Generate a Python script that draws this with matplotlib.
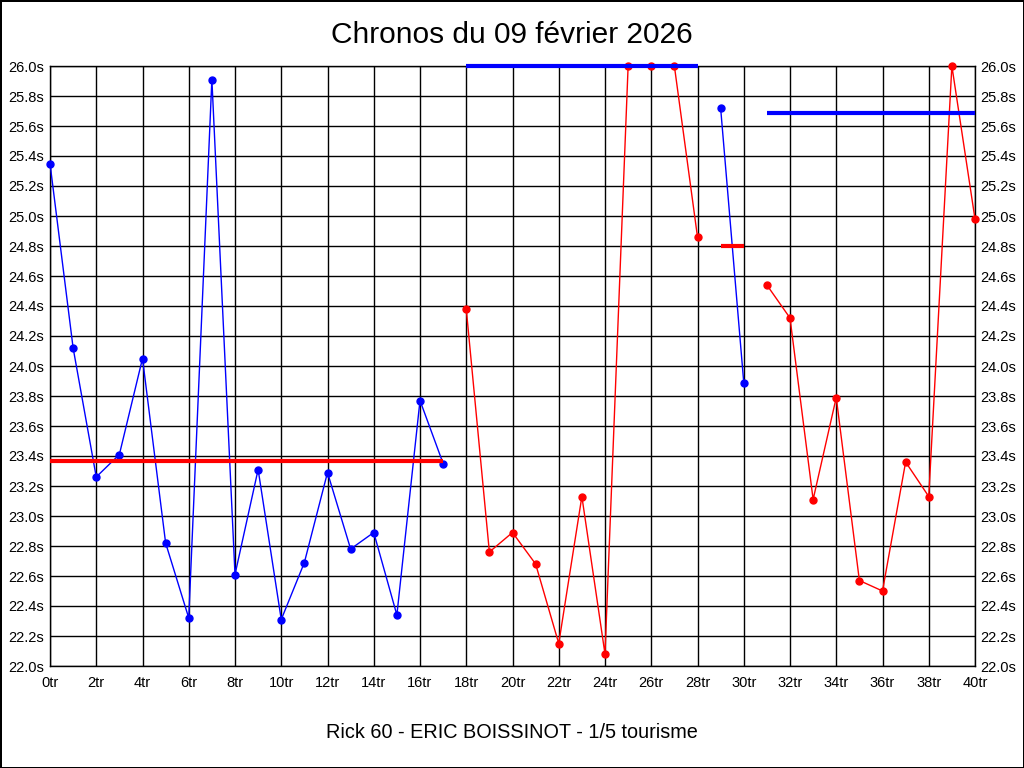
import numpy as np
import matplotlib
matplotlib.use('Agg')
import matplotlib.pyplot as plt
from matplotlib.ticker import FuncFormatter, MultipleLocator

plt.rcParams['font.family'] = ['Liberation Sans', 'DejaVu Sans']

title = 'Chronos du 09 février 2026'
subtitle = 'Rick 60 - ERIC BOISSINOT - 1/5 tourisme'

# relais : (tours, chronos, couleur)
laps_1 = list(range(0, 18))
times_1 = [25.35, 24.12, 23.26, 23.41, 24.05, 22.82, 22.32, 25.91, 22.61,
           23.31, 22.31, 22.69, 23.29, 22.78, 22.89, 22.34, 23.77, 23.35]
laps_2 = list(range(18, 29))
times_2 = [24.38, 22.76, 22.89, 22.68, 22.15, 23.13, 22.08, 26.0, 26.0, 26.0, 24.86]
laps_3 = [29, 30]
times_3 = [25.72, 23.89]
laps_4 = list(range(31, 41))
times_4 = [24.54, 24.32, 23.11, 23.79, 22.57, 22.50, 23.36, 23.13, 26.0, 24.98]

# moyennes par relais (affichees a 26.0 quand hors echelle)
avg_start = [0, 18, 29, 31]
avg_end = [17, 28, 30, 40]
avg_val = [23.37, 26.0, 24.80, 25.69]
avg_col = ['red', 'blue', 'red', 'blue']

stints = [(laps_1, times_1, 'blue'), (laps_2, times_2, 'red'),
          (laps_3, times_3, 'blue'), (laps_4, times_4, 'red')]

fig = plt.figure(figsize=(10.24, 7.68), dpi=100)
fig.patch.set_edgecolor('black')
fig.patch.set_linewidth(2)
ax = fig.add_axes([50/1024, 1-666/768, 925/1024, 600/768])

ax.set_xlim(0, 40)
ax.set_ylim(22.0, 26.0)
ax.xaxis.set_major_locator(MultipleLocator(2))
ax.yaxis.set_major_locator(MultipleLocator(0.2))
ax.xaxis.set_major_formatter(FuncFormatter(lambda v, p: '%dtr' % round(v)))
ax.yaxis.set_major_formatter(FuncFormatter(lambda v, p: '%.1fs' % v))
ax.grid(True, color='black', linewidth=1)
ax.set_axisbelow(True)
ax.tick_params(length=0, labelsize=10.5, pad=4)
ax.tick_params(axis='y', labelright=True, right=False)
ax.tick_params(axis='x', pad=7)
for s in ax.spines.values():
    s.set_linewidth(1)

for laps, times, col in stints:
    ax.plot(laps, times, color=col, linewidth=1, marker='o', markersize=5,
            clip_on=False, zorder=3)

for a, b, v, c in zip(avg_start, avg_end, avg_val, avg_col):
    ax.plot([a, b], [v, v], color=c, linewidth=3, solid_capstyle='butt',
            zorder=4, clip_on=False)

fig.text(0.5, 1-35/768, title, ha='center', va='center', fontsize=21.5)
fig.text(0.5, 1-733/768, subtitle, ha='center', va='center', fontsize=14.3)

fig.savefig('out.png', dpi=100, edgecolor=fig.get_edgecolor())
